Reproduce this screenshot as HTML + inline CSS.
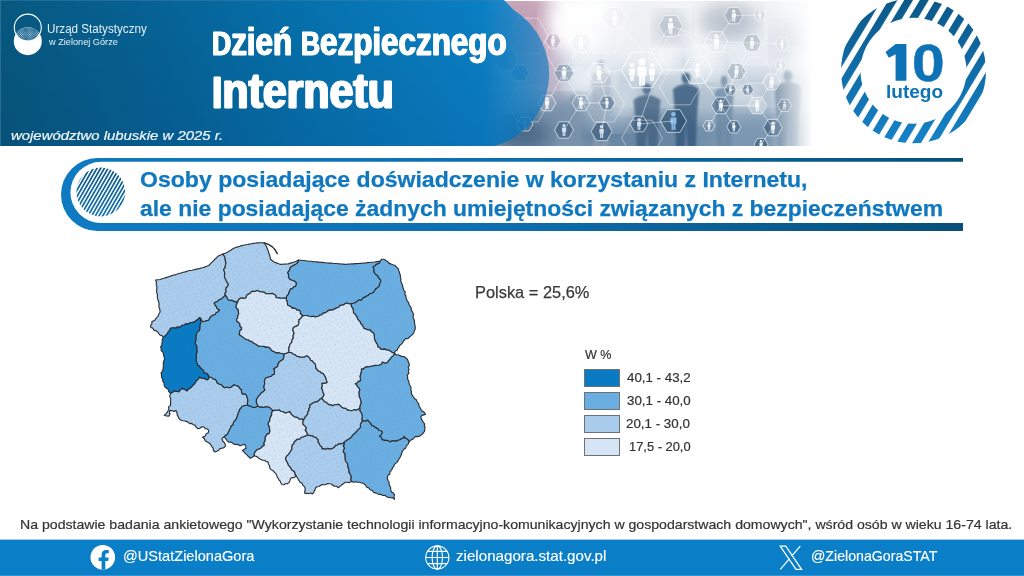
<!DOCTYPE html>
<html lang="pl">
<head>
<meta charset="utf-8">
<title>Dzień Bezpiecznego Internetu</title>
<style>
*{margin:0;padding:0;box-sizing:border-box}
html,body{width:1024px;height:576px;overflow:hidden;background:#fff}
body{position:relative;font-family:"Liberation Sans",sans-serif;color:#333}
.abs{position:absolute;white-space:nowrap}
#hdr{position:absolute;left:0;top:0;width:1024px;height:147px}
.lg{position:absolute;left:584.3px;width:35.4px;height:18px;border:1px solid #6d7278}
</style>
</head>
<body>
<svg id="hdr" viewBox="0 0 1024 147" width="1024" height="147">
<defs>
<linearGradient id="gb" x1="0" y1="0" x2="1" y2="0">
<stop offset="0" stop-color="#07587f"/><stop offset=".3" stop-color="#066397"/><stop offset=".6" stop-color="#0673b0"/><stop offset=".88" stop-color="#0a7fc5"/><stop offset=".93" stop-color="#0c80c7" stop-opacity=".86"/><stop offset="1" stop-color="#1080c9" stop-opacity=".62"/>
</linearGradient>
<linearGradient id="gbv" x1="0" y1="0" x2="0" y2="1">
<stop offset="0" stop-color="#000" stop-opacity=".0"/><stop offset="1" stop-color="#003" stop-opacity=".08"/>
</linearGradient>
<linearGradient id="gph" x1="0" y1="0" x2="0" y2="1">
<stop offset="0" stop-color="#f4f4f7"/><stop offset=".45" stop-color="#d3dde6"/><stop offset="1" stop-color="#8aa3b9"/>
</linearGradient>
<linearGradient id="gfade" x1="0" y1="0" x2="1" y2="0">
<stop offset="0" stop-color="#fff" stop-opacity="0"/><stop offset="1" stop-color="#fff" stop-opacity="1"/>
</linearGradient>
<linearGradient id="gring" x1="0" y1="0" x2="0" y2="1">
<stop offset="0" stop-color="#0a5786"/><stop offset="1" stop-color="#1684cb"/>
</linearGradient>
<pattern id="stripes" width="13.4" height="13.4" patternUnits="userSpaceOnUse" patternTransform="translate(909.90 68.64) rotate(31)">
<rect x="0" y="0" width="7.6" height="13.4" fill="#fff"/>
</pattern>
<mask id="mring"><rect x="830" y="-5" width="170" height="155" fill="#000"/><circle cx="913.5" cy="70.8" r="72.5" fill="url(#stripes)"/><circle cx="913.5" cy="70.8" r="53" fill="#000"/></mask>
<filter id="bl1"><feGaussianBlur stdDeviation="1.2"/></filter>
<filter id="bl2"><feGaussianBlur stdDeviation="2"/></filter>
<filter id="bl4"><feGaussianBlur stdDeviation="4"/></filter>
<filter id="bl8"><feGaussianBlur stdDeviation="9"/></filter>
<clipPath id="cph"><rect x="480" y="1" width="338" height="145"/></clipPath>
</defs>
<g clip-path="url(#cph)">
<rect x="480" y="0" width="338" height="147" fill="url(#gph)"/>
<ellipse cx="520" cy="25" rx="38" ry="40" fill="#c39fb4" opacity="0.95" filter="url(#bl8)"/>
<ellipse cx="545" cy="70" rx="22" ry="45" fill="#b9a3bd" opacity="0.6" filter="url(#bl8)"/>
<ellipse cx="585" cy="25" rx="40" ry="32" fill="#ffffff" opacity="0.95" filter="url(#bl8)"/>
<ellipse cx="640" cy="40" rx="40" ry="30" fill="#f2f2f6" opacity="0.8" filter="url(#bl8)"/>
<ellipse cx="700" cy="30" rx="30" ry="22" fill="#ffffff" opacity="0.7" filter="url(#bl8)"/>
<ellipse cx="760" cy="50" rx="35" ry="35" fill="#eef1f5" opacity="0.7" filter="url(#bl8)"/>
<ellipse cx="590" cy="80" rx="25" ry="20" fill="#ffffff" opacity="0.6" filter="url(#bl8)"/>
<ellipse cx="705" cy="62" rx="16" ry="16" fill="#ffffff" opacity="0.75" filter="url(#bl8)"/>
<ellipse cx="560" cy="125" rx="50" ry="28" fill="#6f8ba6" opacity="0.85" filter="url(#bl8)"/>
<ellipse cx="650" cy="135" rx="70" ry="22" fill="#5d7d9c" opacity="0.8" filter="url(#bl8)"/>
<ellipse cx="750" cy="135" rx="60" ry="22" fill="#7391ad" opacity="0.75" filter="url(#bl8)"/>
<ellipse cx="610" cy="110" rx="30" ry="20" fill="#b4c4d4" opacity="0.6" filter="url(#bl8)"/>
<ellipse cx="760" cy="90" rx="30" ry="20" fill="#b8c6d4" opacity="0.6" filter="url(#bl8)"/>
<ellipse cx="728" cy="22" rx="30" ry="18" fill="#aab3bf" opacity="0.75" filter="url(#bl8)"/>
<ellipse cx="790" cy="45" rx="18" ry="22" fill="#c2cad3" opacity="0.6" filter="url(#bl8)"/>
<ellipse cx="672" cy="28" rx="18" ry="16" fill="#b3bac6" opacity="0.6" filter="url(#bl8)"/>
<ellipse cx="520" cy="135" rx="30" ry="18" fill="#3f5f80" opacity="0.8" filter="url(#bl8)"/>
<ellipse cx="700" cy="105" rx="25" ry="18" fill="#a9bccd" opacity="0.5" filter="url(#bl8)"/>
<ellipse cx="530" cy="60" rx="18" ry="40" fill="#c7a6b9" opacity="0.55" filter="url(#bl8)"/>
<ellipse cx="665" cy="60" rx="14" ry="12" fill="#ffffff" opacity="0.7" filter="url(#bl8)"/>
<ellipse cx="742" cy="95" rx="16" ry="10" fill="#ffffff" opacity="0.5" filter="url(#bl8)"/>
<ellipse cx="625" cy="100" rx="10" ry="14" fill="#ffffff" opacity="0.45" filter="url(#bl8)"/>
<ellipse cx="800" cy="60" rx="10" ry="12" fill="#ffffff" opacity="0.6" filter="url(#bl8)"/>
<g fill="#3f5f7f" opacity="0.75" filter="url(#bl1)"><ellipse cx="647" cy="89" rx="4.6" ry="5.5"/><path d="M633.5,100 Q647,90 660.5,100 L658.3,122.4 L657.3,150 L648.4,150 L647,124.9 L645.6,150 L636.7,150 L635.7,122.4Z"/></g>
<g fill="#35587b" opacity="0.8" filter="url(#bl1)"><ellipse cx="686" cy="78" rx="4.4" ry="5.5"/><path d="M673.0,89 Q686,79 699.0,89 L696.9,118.3 L695.9,150 L687.3,150 L686,121.2 L684.7,150 L676.1,150 L675.1,118.3Z"/></g>
<g fill="#6886a2" opacity="0.7" filter="url(#bl1)"><ellipse cx="724" cy="81" rx="3.2" ry="5.5"/><path d="M714.5,92 Q724,82 733.5,92 L732.0,119.4 L731.2,150 L725.0,150 L724,122.2 L723.0,150 L716.8,150 L716.0,119.4Z"/></g>
<g fill="#55738f" opacity="0.7" filter="url(#bl1)"><ellipse cx="788" cy="76" rx="4.6" ry="5.5"/><path d="M774.5,87 Q788,77 801.5,87 L799.3,117.5 L798.3,150 L789.4,150 L788,120.5 L786.6,150 L777.7,150 L776.7,117.5Z"/></g>
<g fill="#9aa9bb" opacity="0.45" filter="url(#bl1)"><ellipse cx="601" cy="65" rx="3.4" ry="5.5"/><path d="M591.0,76 Q601,66 611.0,76 L609.4,113.3 L608.6,150 L602.0,150 L601,116.8 L600.0,150 L593.4,150 L592.6,113.3Z"/></g>
<g fill="#7f96ad" opacity="0.5" filter="url(#bl1)"><ellipse cx="573" cy="100" rx="3.7" ry="5.5"/><path d="M562.0,111 Q573,101 584.0,111 L582.2,126.6 L581.4,150 L574.1,150 L573,128.7 L571.9,150 L564.6,150 L563.8,126.6Z"/></g>
<polygon points="662.5,70.0 652.2,87.8 631.8,87.8 621.5,70.0 631.8,52.2 652.2,52.2" fill="none" stroke="#fff" stroke-opacity=".8" stroke-width="1"/>
<polygon points="574.0,73.0 569.0,81.7 559.0,81.7 554.0,73.0 559.0,64.3 569.0,64.3" fill="#5f7d99" fill-opacity="0.44" stroke="#fff" stroke-opacity=".7" stroke-width=".9"/>
<g fill="#fff" opacity="0.9"><circle cx="564.0" cy="68.2" r="1.7"/><rect x="561.8" y="70.4" width="4.4" height="4.7" rx="0.7"/><rect x="562.5" y="74.3" width="1.3" height="5.2"/><rect x="564.2" y="74.3" width="1.3" height="5.2"/></g>
<polygon points="591.0,43.0 586.0,51.7 576.0,51.7 571.0,43.0 576.0,34.3 586.0,34.3" fill="#dfe6ee" fill-opacity="0.32" stroke="#fff" stroke-opacity=".7" stroke-width=".9"/>
<g fill="#fff" opacity="0.9"><circle cx="581.0" cy="38.2" r="1.7"/><rect x="578.8" y="40.4" width="4.4" height="4.7" rx="0.7"/><rect x="579.5" y="44.3" width="1.3" height="5.2"/><rect x="581.2" y="44.3" width="1.3" height="5.2"/></g>
<polygon points="610.0,73.0 604.5,82.5 593.5,82.5 588.0,73.0 593.5,63.5 604.5,63.5" fill="#e8eef4" fill-opacity="0.28" stroke="#fff" stroke-opacity=".7" stroke-width=".9"/>
<g fill="#fff" opacity="0.9"><circle cx="599.0" cy="67.5" r="2.0"/><rect x="596.5" y="70.0" width="5.1" height="5.4" rx="0.8"/><rect x="597.3" y="74.5" width="1.5" height="6.0"/><rect x="599.2" y="74.5" width="1.5" height="6.0"/></g>
<polygon points="615.0,103.0 611.0,109.9 603.0,109.9 599.0,103.0 603.0,96.1 611.0,96.1" fill="#4b6b8a" fill-opacity="0.56" stroke="#fff" stroke-opacity=".7" stroke-width=".9"/>
<g fill="#fff" opacity="0.9"><circle cx="607.0" cy="99.3" r="1.3"/><rect x="605.3" y="101.0" width="3.4" height="3.6" rx="0.5"/><rect x="605.8" y="104.0" width="1.0" height="4.0"/><rect x="607.2" y="104.0" width="1.0" height="4.0"/></g>
<polygon points="590.0,103.0 585.5,110.8 576.5,110.8 572.0,103.0 576.5,95.2 585.5,95.2" fill="#8aa0b6" fill-opacity="0.44" stroke="#fff" stroke-opacity=".7" stroke-width=".9"/>
<g fill="#fff" opacity="0.9"><circle cx="581.0" cy="98.6" r="1.6"/><rect x="579.0" y="100.6" width="4.1" height="4.3" rx="0.6"/><rect x="579.6" y="104.2" width="1.2" height="4.8"/><rect x="581.2" y="104.2" width="1.2" height="4.8"/></g>
<polygon points="556.0,103.0 551.5,110.8 542.5,110.8 538.0,103.0 542.5,95.2 551.5,95.2" fill="#9eb1c4" fill-opacity="0.40" stroke="#fff" stroke-opacity=".7" stroke-width=".9"/>
<g fill="#fff" opacity="0.9"><circle cx="547.0" cy="98.6" r="1.6"/><rect x="545.0" y="100.6" width="4.1" height="4.3" rx="0.6"/><rect x="545.6" y="104.2" width="1.2" height="4.8"/><rect x="547.2" y="104.2" width="1.2" height="4.8"/></g>
<polygon points="573.5,130.0 568.8,138.2 559.2,138.2 554.5,130.0 559.2,121.8 568.8,121.8" fill="#3f5f80" fill-opacity="0.64" stroke="#fff" stroke-opacity=".7" stroke-width=".9"/>
<g fill="#dfeaf5" opacity="0.9"><circle cx="564.0" cy="125.6" r="1.6"/><rect x="562.0" y="127.6" width="4.1" height="4.3" rx="0.6"/><rect x="562.6" y="131.2" width="1.2" height="4.8"/><rect x="564.2" y="131.2" width="1.2" height="4.8"/></g>
<polygon points="612.1,131.5 606.9,140.6 596.4,140.6 591.1,131.5 596.4,122.4 606.9,122.4" fill="#38597a" fill-opacity="0.68" stroke="#fff" stroke-opacity=".7" stroke-width=".9"/>
<g fill="#dfeaf5" opacity="0.9"><circle cx="601.6" cy="126.7" r="1.7"/><rect x="599.4" y="128.9" width="4.4" height="4.7" rx="0.7"/><rect x="600.1" y="132.8" width="1.3" height="5.2"/><rect x="601.8" y="132.8" width="1.3" height="5.2"/></g>
<polygon points="648.0,124.0 643.5,131.8 634.5,131.8 630.0,124.0 634.5,116.2 643.5,116.2" fill="#3d5d7e" fill-opacity="0.64" stroke="#fff" stroke-opacity=".7" stroke-width=".9"/>
<g fill="#dfeaf5" opacity="0.9"><circle cx="639.0" cy="119.6" r="1.6"/><rect x="637.0" y="121.6" width="4.1" height="4.3" rx="0.6"/><rect x="637.6" y="125.2" width="1.2" height="4.8"/><rect x="639.2" y="125.2" width="1.2" height="4.8"/></g>
<polygon points="686.5,121.0 680.0,132.3 667.0,132.3 660.5,121.0 667.0,109.7 680.0,109.7" fill="#2f5273" fill-opacity="0.68" stroke="#fff" stroke-opacity=".7" stroke-width=".9"/>
<g fill="#8fc3ee" opacity="0.9"><circle cx="673.5" cy="114.3" r="2.3"/><rect x="670.4" y="117.4" width="6.1" height="6.5" rx="0.9"/><rect x="671.5" y="122.8" width="1.8" height="7.2"/><rect x="673.7" y="122.8" width="1.8" height="7.2"/></g>
<polygon points="682.6,26.0 676.6,36.4 664.6,36.4 658.6,26.0 664.6,15.6 676.6,15.6" fill="#a9b3c0" fill-opacity="0.44" stroke="#fff" stroke-opacity=".7" stroke-width=".9"/>
<g fill="#fff" opacity="0.9"><circle cx="670.6" cy="20.1" r="2.1"/><rect x="667.9" y="22.8" width="5.4" height="5.8" rx="0.8"/><rect x="668.8" y="27.6" width="1.6" height="6.4"/><rect x="670.8" y="27.6" width="1.6" height="6.4"/></g>
<polygon points="626.6,18.0 620.6,28.4 608.6,28.4 602.6,18.0 608.6,7.6 620.6,7.6" fill="#e8e8ee" fill-opacity="0.24" stroke="#fff" stroke-opacity=".7" stroke-width=".9"/>
<g fill="#fff" opacity="0.9"><circle cx="614.6" cy="12.4" r="2.0"/><rect x="612.1" y="15.0" width="5.1" height="5.4" rx="0.8"/><rect x="612.9" y="19.5" width="1.5" height="6.0"/><rect x="614.8" y="19.5" width="1.5" height="6.0"/></g>
<polygon points="561.0,41.0 557.0,47.9 549.0,47.9 545.0,41.0 549.0,34.1 557.0,34.1" fill="#a58ea6" fill-opacity="0.40" stroke="#fff" stroke-opacity=".7" stroke-width=".9"/>
<g fill="#fff" opacity="0.9"><circle cx="553.0" cy="36.9" r="1.4"/><rect x="551.1" y="38.8" width="3.7" height="4.0" rx="0.6"/><rect x="551.7" y="42.1" width="1.1" height="4.4"/><rect x="553.2" y="42.1" width="1.1" height="4.4"/></g>
<polygon points="743.3,15.6 738.5,23.8 729.0,23.8 724.3,15.6 729.0,7.4 738.5,7.4" fill="#97a3b2" fill-opacity="0.52" stroke="#fff" stroke-opacity=".7" stroke-width=".9"/>
<g fill="#fff" opacity="0.9"><circle cx="733.8" cy="11.2" r="1.6"/><rect x="731.8" y="13.2" width="4.1" height="4.3" rx="0.6"/><rect x="732.4" y="16.8" width="1.2" height="4.8"/><rect x="734.0" y="16.8" width="1.2" height="4.8"/></g>
<polygon points="765.8,15.0 762.8,20.2 756.8,20.2 753.8,15.0 756.8,9.8 762.8,9.8" fill="#c7cdd6" fill-opacity="0.40" stroke="#fff" stroke-opacity=".7" stroke-width=".9"/>
<g fill="#fff" opacity="0.9"><circle cx="759.8" cy="12.0" r="1.0"/><rect x="758.4" y="13.4" width="2.7" height="2.9" rx="0.4"/><rect x="758.8" y="15.8" width="0.8" height="3.2"/><rect x="760.0" y="15.8" width="0.8" height="3.2"/></g>
<polygon points="727.9,41.7 722.1,51.7 710.6,51.7 704.9,41.7 710.6,31.7 722.1,31.7" fill="#dfe5ec" fill-opacity="0.28" stroke="#fff" stroke-opacity=".7" stroke-width=".9"/>
<g fill="#fff" opacity="0.9"><circle cx="716.4" cy="36.2" r="2.0"/><rect x="713.9" y="38.7" width="5.1" height="5.4" rx="0.8"/><rect x="714.7" y="43.2" width="1.5" height="6.0"/><rect x="716.6" y="43.2" width="1.5" height="6.0"/></g>
<polygon points="761.5,43.0 756.8,51.2 747.2,51.2 742.5,43.0 747.2,34.8 756.8,34.8" fill="#9aa8b8" fill-opacity="0.48" stroke="#fff" stroke-opacity=".7" stroke-width=".9"/>
<g fill="#fff" opacity="0.9"><circle cx="752.0" cy="38.6" r="1.6"/><rect x="750.0" y="40.6" width="4.1" height="4.3" rx="0.6"/><rect x="750.6" y="44.2" width="1.2" height="4.8"/><rect x="752.2" y="44.2" width="1.2" height="4.8"/></g>
<polygon points="789.0,44.0 785.5,50.1 778.5,50.1 775.0,44.0 778.5,37.9 785.5,37.9" fill="#c9d0d9" fill-opacity="0.40" stroke="#fff" stroke-opacity=".7" stroke-width=".9"/>
<g fill="#fff" opacity="0.9"><circle cx="782.0" cy="40.7" r="1.2"/><rect x="780.5" y="42.2" width="3.1" height="3.2" rx="0.5"/><rect x="780.9" y="44.9" width="0.9" height="3.6"/><rect x="782.2" y="44.9" width="0.9" height="3.6"/></g>
<polygon points="786.7,65.0 783.7,70.2 777.7,70.2 774.7,65.0 777.7,59.8 783.7,59.8" fill="#c3ccd6" fill-opacity="0.40" stroke="#fff" stroke-opacity=".7" stroke-width=".9"/>
<g fill="#fff" opacity="0.9"><circle cx="780.7" cy="62.0" r="1.0"/><rect x="779.3" y="63.4" width="2.7" height="2.9" rx="0.4"/><rect x="779.7" y="65.8" width="0.8" height="3.2"/><rect x="780.9" y="65.8" width="0.8" height="3.2"/></g>
<polygon points="745.9,71.6 741.1,79.8 731.6,79.8 726.9,71.6 731.6,63.4 741.1,63.4" fill="#8d9fb2" fill-opacity="0.48" stroke="#fff" stroke-opacity=".7" stroke-width=".9"/>
<g fill="#fff" opacity="0.9"><circle cx="736.4" cy="67.2" r="1.6"/><rect x="734.4" y="69.2" width="4.1" height="4.3" rx="0.6"/><rect x="735.0" y="72.8" width="1.2" height="4.8"/><rect x="736.6" y="72.8" width="1.2" height="4.8"/></g>
<polygon points="780.6,82.0 776.1,89.8 767.1,89.8 762.6,82.0 767.1,74.2 776.1,74.2" fill="#d6dde5" fill-opacity="0.40" stroke="#fff" stroke-opacity=".7" stroke-width=".9"/>
<g fill="#fff" opacity="0.9"><circle cx="771.6" cy="77.6" r="1.6"/><rect x="769.6" y="79.6" width="4.1" height="4.3" rx="0.6"/><rect x="770.2" y="83.2" width="1.2" height="4.8"/><rect x="771.8" y="83.2" width="1.2" height="4.8"/></g>
<polygon points="736.4,89.8 733.4,95.0 727.4,95.0 724.4,89.8 727.4,84.6 733.4,84.6" fill="#4d6d8c" fill-opacity="0.60" stroke="#fff" stroke-opacity=".7" stroke-width=".9"/>
<g fill="#fff" opacity="0.9"><circle cx="730.4" cy="86.8" r="1.0"/><rect x="729.0" y="88.2" width="2.7" height="2.9" rx="0.4"/><rect x="729.4" y="90.6" width="0.8" height="3.2"/><rect x="730.6" y="90.6" width="0.8" height="3.2"/></g>
<polygon points="753.6,89.8 750.6,95.0 744.6,95.0 741.6,89.8 744.6,84.6 750.6,84.6" fill="#4d6d8c" fill-opacity="0.60" stroke="#fff" stroke-opacity=".7" stroke-width=".9"/>
<g fill="#fff" opacity="0.9"><circle cx="747.6" cy="86.8" r="1.0"/><rect x="746.2" y="88.2" width="2.7" height="2.9" rx="0.4"/><rect x="746.6" y="90.6" width="0.8" height="3.2"/><rect x="747.8" y="90.6" width="0.8" height="3.2"/></g>
<polygon points="730.3,105.5 725.5,113.7 716.0,113.7 711.3,105.5 716.0,97.3 725.5,97.3" fill="#4a6a89" fill-opacity="0.56" stroke="#fff" stroke-opacity=".7" stroke-width=".9"/>
<g fill="#fff" opacity="0.9"><circle cx="720.8" cy="101.1" r="1.6"/><rect x="718.8" y="103.1" width="4.1" height="4.3" rx="0.6"/><rect x="719.4" y="106.7" width="1.2" height="4.8"/><rect x="721.0" y="106.7" width="1.2" height="4.8"/></g>
<polygon points="766.7,105.5 762.0,113.7 752.5,113.7 747.7,105.5 752.5,97.3 762.0,97.3" fill="#dbe3eb" fill-opacity="0.40" stroke="#fff" stroke-opacity=".7" stroke-width=".9"/>
<g fill="#fff" opacity="0.9"><circle cx="757.2" cy="101.1" r="1.6"/><rect x="755.2" y="103.1" width="4.1" height="4.3" rx="0.6"/><rect x="755.8" y="106.7" width="1.2" height="4.8"/><rect x="757.4" y="106.7" width="1.2" height="4.8"/></g>
<polygon points="791.6,105.5 788.1,111.6 781.1,111.6 777.6,105.5 781.1,99.4 788.1,99.4" fill="#48607c" fill-opacity="0.60" stroke="#fff" stroke-opacity=".7" stroke-width=".9"/>
<g fill="#cfe0f0" opacity="0.9"><circle cx="784.6" cy="102.2" r="1.2"/><rect x="783.1" y="103.7" width="3.1" height="3.2" rx="0.5"/><rect x="783.5" y="106.4" width="0.9" height="3.6"/><rect x="784.8" y="106.4" width="0.9" height="3.6"/></g>
<polygon points="715.0,125.8 712.0,131.0 706.0,131.0 703.0,125.8 706.0,120.6 712.0,120.6" fill="#7a93ab" fill-opacity="0.48" stroke="#fff" stroke-opacity=".7" stroke-width=".9"/>
<g fill="#fff" opacity="0.9"><circle cx="709.0" cy="122.8" r="1.0"/><rect x="707.6" y="124.2" width="2.7" height="2.9" rx="0.4"/><rect x="708.0" y="126.6" width="0.8" height="3.2"/><rect x="709.2" y="126.6" width="0.8" height="3.2"/></g>
<polygon points="740.8,126.8 737.3,132.9 730.3,132.9 726.8,126.8 730.3,120.7 737.3,120.7" fill="#3f6080" fill-opacity="0.64" stroke="#fff" stroke-opacity=".7" stroke-width=".9"/>
<g fill="#fff" opacity="0.9"><circle cx="733.8" cy="123.5" r="1.2"/><rect x="732.3" y="125.0" width="3.1" height="3.2" rx="0.5"/><rect x="732.7" y="127.7" width="0.9" height="3.6"/><rect x="734.0" y="127.7" width="0.9" height="3.6"/></g>
<polygon points="782.4,127.6 777.6,135.8 768.1,135.8 763.4,127.6 768.1,119.4 777.6,119.4" fill="#3a5b7b" fill-opacity="0.64" stroke="#fff" stroke-opacity=".7" stroke-width=".9"/>
<g fill="#fff" opacity="0.9"><circle cx="772.9" cy="123.2" r="1.6"/><rect x="770.9" y="125.2" width="4.1" height="4.3" rx="0.6"/><rect x="771.5" y="128.8" width="1.2" height="4.8"/><rect x="773.1" y="128.8" width="1.2" height="4.8"/></g>
<polygon points="768.0,144.5 764.5,150.6 757.5,150.6 754.0,144.5 757.5,138.4 764.5,138.4" fill="#3a5b7b" fill-opacity="0.64" stroke="#fff" stroke-opacity=".7" stroke-width=".9"/>
<g fill="#fff" opacity="0.9"><circle cx="761.0" cy="141.2" r="1.2"/><rect x="759.5" y="142.7" width="3.1" height="3.2" rx="0.5"/><rect x="759.9" y="145.4" width="0.9" height="3.6"/><rect x="761.2" y="145.4" width="0.9" height="3.6"/></g>
<polygon points="712.3,70.3 704.8,83.3 689.8,83.3 682.3,70.3 689.8,57.3 704.8,57.3" fill="none" stroke="#fff" stroke-opacity=".8" stroke-width="1"/>
<g fill="#fff" opacity="0.9"><circle cx="697.3" cy="65.1" r="1.8"/><rect x="694.9" y="67.5" width="4.8" height="5.0" rx="0.7"/><rect x="695.7" y="71.7" width="1.4" height="5.6"/><rect x="697.5" y="71.7" width="1.4" height="5.6"/></g>
<polygon points="529.0,73.0 524.5,80.8 515.5,80.8 511.0,73.0 515.5,65.2 524.5,65.2" fill="#2f6f9f" fill-opacity="0.40" stroke="#fff" stroke-opacity=".7" stroke-width=".9"/>
<g fill="#5fa4d8" opacity="0.9"><circle cx="520.0" cy="68.6" r="1.6"/><rect x="518.0" y="70.6" width="4.1" height="4.3" rx="0.6"/><rect x="518.6" y="74.2" width="1.2" height="4.8"/><rect x="520.2" y="74.2" width="1.2" height="4.8"/></g>
<polygon points="533.0,124.0 529.0,130.9 521.0,130.9 517.0,124.0 521.0,117.1 529.0,117.1" fill="#2f6f9f" fill-opacity="0.32" stroke="#fff" stroke-opacity=".7" stroke-width=".9"/>
<g fill="#5fa4d8" opacity="0.9"><circle cx="525.0" cy="120.3" r="1.3"/><rect x="523.3" y="122.0" width="3.4" height="3.6" rx="0.5"/><rect x="523.8" y="125.0" width="1.0" height="4.0"/><rect x="525.2" y="125.0" width="1.0" height="4.0"/></g>
<polygon points="518.0,60.0 512.0,70.4 500.0,70.4 494.0,60.0 500.0,49.6 512.0,49.6" fill="#2f6f9f" fill-opacity="0.24" stroke="#fff" stroke-opacity=".7" stroke-width=".9"/>
<g fill="#5fa4d8" opacity="0.9"><circle cx="506.0" cy="54.1" r="2.1"/><rect x="503.3" y="56.8" width="5.4" height="5.8" rx="0.8"/><rect x="504.2" y="61.6" width="1.6" height="6.4"/><rect x="506.2" y="61.6" width="1.6" height="6.4"/></g>
<polygon points="624.5,36.0 614.2,53.8 593.8,53.8 583.5,36.0 593.8,18.2 614.2,18.2" fill="none" stroke="#fff" stroke-opacity=".45" stroke-width=".9"/>
<polygon points="624.5,104.0 614.2,121.8 593.8,121.8 583.5,104.0 593.8,86.2 614.2,86.2" fill="none" stroke="#fff" stroke-opacity=".45" stroke-width=".9"/>
<polygon points="586.5,53.0 576.2,70.8 555.8,70.8 545.5,53.0 555.8,35.2 576.2,35.2" fill="none" stroke="#fff" stroke-opacity=".45" stroke-width=".9"/>
<polygon points="700.5,87.0 690.2,104.8 669.8,104.8 659.5,87.0 669.8,69.2 690.2,69.2" fill="none" stroke="#fff" stroke-opacity=".45" stroke-width=".9"/>
<polygon points="700.5,53.0 690.2,70.8 669.8,70.8 659.5,53.0 669.8,35.2 690.2,35.2" fill="none" stroke="#fff" stroke-opacity=".45" stroke-width=".9"/>
<polygon points="738.5,70.0 728.2,87.8 707.8,87.8 697.5,70.0 707.8,52.2 728.2,52.2" fill="none" stroke="#fff" stroke-opacity=".45" stroke-width=".9"/>
<polygon points="548.5,36.0 538.2,53.8 517.8,53.8 507.5,36.0 517.8,18.2 538.2,18.2" fill="none" stroke="#fff" stroke-opacity=".45" stroke-width=".9"/>
<polygon points="548.5,104.0 538.2,121.8 517.8,121.8 507.5,104.0 517.8,86.2 538.2,86.2" fill="none" stroke="#fff" stroke-opacity=".45" stroke-width=".9"/>
<polygon points="510.5,87.0 500.2,104.8 479.8,104.8 469.5,87.0 479.8,69.2 500.2,69.2" fill="none" stroke="#fff" stroke-opacity=".45" stroke-width=".9"/>
<polygon points="771.0,70.0 763.5,83.0 748.5,83.0 741.0,70.0 748.5,57.0 763.5,57.0" fill="none" stroke="#fff" stroke-opacity=".45" stroke-width=".9"/>
<polygon points="662.5,138.0 652.2,155.8 631.8,155.8 621.5,138.0 631.8,120.2 652.2,120.2" fill="none" stroke="#fff" stroke-opacity=".45" stroke-width=".9"/>
<g fill="#fff" opacity="0.95"><circle cx="642.0" cy="62.0" r="3.5"/><rect x="637.4" y="66.6" width="9.2" height="9.7" rx="1.4"/><rect x="639.1" y="74.7" width="2.7" height="10.8"/><rect x="642.2" y="74.7" width="2.7" height="10.8"/></g>
<g fill="#fff" opacity="0.9"><circle cx="632.0" cy="65.3" r="2.3"/><rect x="628.9" y="68.4" width="6.1" height="6.5" rx="0.9"/><rect x="630.0" y="73.8" width="1.8" height="7.2"/><rect x="632.2" y="73.8" width="1.8" height="7.2"/></g>
<g fill="#fff" opacity="0.9"><circle cx="652.0" cy="65.3" r="2.3"/><rect x="648.9" y="68.4" width="6.1" height="6.5" rx="0.9"/><rect x="650.0" y="73.8" width="1.8" height="7.2"/><rect x="652.2" y="73.8" width="1.8" height="7.2"/></g>
<g stroke="#fff" stroke-opacity=".6" stroke-width=".8">
<line x1="564" y1="73" x2="581" y2="43"/>
<line x1="581" y1="43" x2="599" y2="73"/>
<line x1="599" y1="73" x2="621.5" y2="70"/>
<line x1="599" y1="73" x2="607" y2="103"/>
<line x1="581" y1="103" x2="607" y2="103"/>
<line x1="564" y1="73" x2="581" y2="103"/>
<line x1="547" y1="103" x2="564" y2="73"/>
<line x1="581" y1="103" x2="564" y2="130"/>
<line x1="607" y1="103" x2="601.6" y2="131.5"/>
<line x1="662.5" y1="70" x2="697" y2="70"/>
<line x1="652" y1="52" x2="670.6" y2="26"/>
<line x1="670.6" y1="26" x2="716" y2="41.7"/>
<line x1="716.4" y1="41.7" x2="733.8" y2="15.6"/>
<line x1="733.8" y1="15.6" x2="759.8" y2="15"/>
<line x1="716.4" y1="41.7" x2="752" y2="43"/>
<line x1="752" y1="43" x2="782" y2="44"/>
<line x1="752" y1="43" x2="736.4" y2="71.6"/>
<line x1="736.4" y1="71.6" x2="730.4" y2="89.8"/>
<line x1="730.4" y1="89.8" x2="747.6" y2="89.8"/>
<line x1="730.4" y1="89.8" x2="720.8" y2="105.5"/>
<line x1="720.8" y1="105.5" x2="757.2" y2="105.5"/>
<line x1="747.6" y1="89.8" x2="757.2" y2="105.5"/>
<line x1="757.2" y1="105.5" x2="771.6" y2="82"/>
<line x1="771.6" y1="82" x2="780.7" y2="65"/>
<line x1="757.2" y1="105.5" x2="772.9" y2="127.6"/>
<line x1="720.8" y1="105.5" x2="709" y2="125.8"/>
<line x1="720.8" y1="105.5" x2="733.8" y2="126.8"/>
<line x1="772.9" y1="127.6" x2="761" y2="144.5"/>
<line x1="784.6" y1="105.5" x2="772.9" y2="127.6"/>
<line x1="697" y1="70" x2="720.8" y2="105.5"/>
<line x1="652" y1="88" x2="639" y2="124"/>
<line x1="639" y1="124" x2="673.5" y2="121"/>
<line x1="614.6" y1="18" x2="642" y2="50"/>
</g>
<rect x="768" y="0" width="45" height="147" fill="url(#gfade)"/><rect x="812.5" y="0" width="8" height="147" fill="#fff"/>
</g>
<!-- blue band -->
<path d="M0,0H504L508.5,4.5L513.7,10A75.1,75.1 0 0 1 494.7,146H0Z" fill="url(#gb)"/>
<path d="M0,0H504L508.5,4.5L513.7,10A75.1,75.1 0 0 1 494.7,146H0Z" fill="url(#gbv)"/>
<rect x="0" y="0" width="1" height="146" fill="#3c7ea8" opacity=".6"/>
<rect x="0" y="0" width="500" height="1" fill="#3c7ea8" opacity=".5"/>
<!-- logo -->
<circle cx="27.8" cy="41.2" r="14" fill="#fff"/>
<clipPath id="clens"><circle cx="27.8" cy="27.6" r="13.2"/></clipPath>
<pattern id="xh" width="1.6" height="1.6" patternUnits="userSpaceOnUse" patternTransform="rotate(45)"><rect width="1.6" height="1.6" fill="#07587f"/><rect width=".75" height=".75" fill="#fff"/></pattern>
<circle cx="27.8" cy="41.2" r="14" fill="url(#xh)" clip-path="url(#clens)"/>
<circle cx="27.8" cy="41.2" r="14" fill="#6b9fc4" fill-opacity=".35" clip-path="url(#clens)"/>
<circle cx="27.8" cy="27.6" r="13.5" fill="none" stroke="#fff" stroke-width="1.1"/>
<!-- date ring -->
<rect x="830" y="-5" width="170" height="155" fill="url(#gring)" mask="url(#mring)"/>
<path d="M895.6,43.9H906.4V80.7H895.6V54.3L888.9,57.7L885.5,52.1Z" fill="#0d72b6"/>
</svg>


<!-- title bar -->
<svg class="abs" style="left:0;top:150px" width="1024" height="90" viewBox="0 150 1024 90">
<defs>
<linearGradient id="gt" x1="0" y1="0" x2="1" y2="0" gradientUnits="userSpaceOnUse" >
<stop offset="0" stop-color="#0f7ac2"/><stop offset=".5" stop-color="#0d6cab"/><stop offset="1" stop-color="#064a6d"/>
</linearGradient>
<linearGradient id="gt2" x1="61" y1="0" x2="963" y2="0" gradientUnits="userSpaceOnUse">
<stop offset="0" stop-color="#0f7ac2"/><stop offset=".45" stop-color="#0e70b2"/><stop offset="1" stop-color="#07507a"/>
</linearGradient>
<linearGradient id="gh" x1="0" y1="0" x2="0" y2="1">
<stop offset="0" stop-color="#0a5482"/><stop offset="1" stop-color="#1379bd"/>
</linearGradient>
<pattern id="hat" width="3.2" height="3.2" patternUnits="userSpaceOnUse" patternTransform="translate(100.8 192) rotate(30)">
<rect x="0" y="0" width="1.7" height="3.2" fill="#fff"/>
</pattern>
<mask id="mh"><rect x="70" y="160" width="70" height="70" fill="#000"/><circle cx="100.8" cy="192" r="24.4" fill="url(#hat)"/></mask>
</defs>
<path d="M963,158H97.5A36.5,36.5 0 0 0 97.5,231H963Z" fill="url(#gt2)"/>
<path d="M964,161.8H101A30.6,30.6 0 0 0 101,223H964Z" fill="#fff"/>
<rect x="70" y="160" width="70" height="70" fill="url(#gh)" mask="url(#mh)"/>
</svg>

<!-- map -->
<svg class="abs" style="left:0;top:230px" width="460" height="280" viewBox="0 230 460 280">
<defs><pattern id="dots" width="11" height="9" patternUnits="userSpaceOnUse" patternTransform="rotate(14)"><rect x="1" y="1" width="1" height="1" fill="#5c7f9c" fill-opacity=".3"/><rect x="6.500" y="3.500" width="1" height="1" fill="#5c7f9c" fill-opacity=".3"/><rect x="3" y="6.500" width="1" height="1" fill="#5c7f9c" fill-opacity=".3"/><rect x="9" y="7" width="1" height="1" fill="#5c7f9c" fill-opacity=".25"/></pattern></defs>
<g stroke="#2b2f34" stroke-width="1.15" stroke-linejoin="round">
<defs>
<path id="rZP" d="M155.6,280.0 157.9,279.7 160.3,279.5 162.1,278.8 164.0,278.3 165.8,277.6 167.6,277.1 169.5,276.5 171.3,275.9 173.0,275.3 174.8,274.9 176.5,274.3 178.2,273.8 179.9,273.2 181.7,272.7 183.4,272.3 185.2,271.9 186.9,271.3 188.6,270.8 190.4,270.5 192.1,270.2 193.9,269.8 195.6,269.4 197.3,268.9 199.1,268.7 200.7,268.1 202.5,267.8 204.6,267.1 206.7,266.2 208.8,265.5 210.3,263.9 211.8,262.3 213.4,260.8 214.9,259.2 216.6,257.7 218.1,256.1 219.6,255.4 221.2,254.8 222.8,254.1 224.3,256.1 225.2,258.4 225.3,260.5 226.0,262.6 225.6,264.7 225.2,266.4 225.0,268.1 223.6,269.4 224.3,271.4 224.9,273.4 224.4,275.6 224.8,277.8 225.9,279.8 226.7,281.9 227.9,283.2 228.3,285.0 227.5,286.6 226.1,287.8 225.9,289.7 226.3,291.6 224.9,293.3 225.2,295.2 224.0,296.6 222.6,297.8 221.3,299.1 219.3,299.6 217.8,301.2 216.0,302.0 214.2,303.0 215.1,305.1 216.6,306.9 217.6,309.0 219.7,310.0 218.3,311.7 216.2,312.8 215.0,314.7 212.9,315.2 211.1,316.3 209.8,318.1 208.8,320.2 206.7,320.8 204.7,321.4 202.5,321.7 200.8,319.0 199.5,317.5 198.0,319.3 196.3,320.5 194.4,321.9 192.3,322.6 190.0,322.8 188.3,324.1 186.0,323.6 184.3,325.0 182.2,325.2 180.9,326.5 179.3,327.3 177.2,327.0 175.9,328.3 174.1,327.7 172.3,328.0 170.5,328.3 169.6,330.4 168.1,332.2 167.2,333.8 166.0,335.2 164.6,336.4 163.4,337.7 162.3,335.9 160.3,335.3 158.9,333.6 157.5,331.8 155.6,330.6 153.7,330.1 152.8,328.1 150.9,327.5 150.5,325.6 152.0,323.9 151.7,322.0 153.2,321.0 154.8,320.2 156.2,318.1 158.0,316.3 158.7,314.2 160.0,312.3 160.0,310.0 159.3,308.1 158.8,306.2 159.1,304.1 158.8,302.2 158.1,300.3 157.5,298.4 157.3,296.4 157.5,294.4 156.6,292.5 156.7,290.5 156.8,288.6 156.9,286.6 156.2,284.5 156.4,282.1 155.6,280.0Z"/>
<path id="rPM" d="M222.8,254.1 225.2,253.2 227.5,252.2 229.1,251.2 230.7,250.3 232.2,249.2 233.8,248.3 235.7,247.5 237.7,246.9 239.7,246.3 241.6,245.6 243.5,245.2 245.5,244.8 247.5,244.5 249.4,244.1 251.3,243.8 253.3,243.4 255.3,243.2 257.2,242.8 258.9,242.8 260.7,242.7 262.4,242.8 264.2,242.8 265.3,244.7 266.5,246.5 267.2,248.6 268.1,250.6 268.8,253.0 269.7,255.3 270.1,257.2 270.5,259.2 272.4,260.8 274.4,262.3 276.5,262.9 278.5,263.7 280.6,264.4 282.6,264.3 284.5,264.1 286.4,264.0 288.4,263.9 290.3,263.1 292.4,262.6 294.3,262.0 296.3,261.3 298.5,260.0 298.1,262.3 296.3,263.9 294.6,264.7 293.0,265.7 291.4,266.5 290.0,267.8 289.8,269.6 288.8,271.1 287.7,272.5 288.7,274.7 288.4,277.2 290.0,279.2 292.3,280.3 294.6,281.0 296.3,282.7 296.3,284.7 295.5,286.6 293.6,286.7 292.6,288.6 290.8,288.9 289.7,290.6 289.0,292.5 288.4,294.4 286.8,296.1 286.2,298.3 284.3,298.0 282.5,298.2 280.6,298.3 278.3,297.9 275.9,297.5 275.9,295.6 274.4,294.4 272.4,293.4 270.2,293.8 268.1,293.6 265.9,293.7 264.1,292.1 261.9,292.0 259.5,291.6 257.2,290.5 255.0,291.5 252.5,291.3 250.9,292.3 249.6,293.8 247.8,294.4 246.5,295.7 246.3,297.5 244.3,298.5 242.1,298.1 240.0,298.3 238.4,300.0 237.7,302.2 235.7,301.9 233.8,301.4 231.9,300.2 229.4,300.5 227.5,299.1 226.7,296.9 225.2,295.2 224.9,293.3 226.3,291.6 225.9,289.7 226.1,287.8 227.5,286.6 228.3,285.0 227.9,283.2 226.7,281.9 225.9,279.8 224.8,277.8 224.4,275.6 224.9,273.4 224.3,271.4 223.6,269.4 225.0,268.1 225.2,266.4 225.6,264.7 226.0,262.6 225.3,260.5 225.2,258.4 224.3,256.1 222.8,254.1Z"/>
<path id="rWM" d="M298.5,260.0 300.3,260.2 302.2,260.5 304.0,260.5 305.9,260.8 307.7,261.0 309.5,261.2 311.4,261.3 313.2,261.6 315.0,261.8 316.9,261.9 318.7,262.1 320.4,262.3 322.2,262.3 323.9,262.6 325.7,262.7 327.4,263.0 329.2,263.1 331.0,263.1 332.7,263.3 334.5,263.5 336.2,263.5 338.0,263.8 339.7,263.9 341.5,264.0 343.3,264.1 345.0,264.4 346.7,264.3 348.4,264.1 350.1,264.0 351.8,263.9 353.6,263.9 355.2,263.6 357.0,263.6 358.7,263.5 360.4,263.4 362.1,263.3 363.8,263.1 365.6,263.0 367.4,262.6 369.3,262.5 371.1,262.3 372.9,262.2 374.7,262.0 376.5,261.6 378.4,261.4 380.2,261.3 379.5,263.0 377.8,263.9 376.0,264.6 374.7,266.0 373.1,267.0 374.1,269.2 373.9,271.7 374.9,273.3 376.1,274.7 377.8,275.6 378.4,277.5 379.7,278.8 380.9,280.3 380.5,282.2 379.6,283.9 379.4,285.8 378.0,287.5 376.0,288.7 374.7,290.5 373.6,292.3 371.8,293.2 369.8,293.8 368.4,295.2 366.7,296.0 365.3,297.1 363.4,297.6 362.2,299.1 360.9,300.5 358.7,300.0 357.3,301.1 355.9,302.2 353.7,303.2 351.3,303.8 348.9,303.8 346.6,303.0 345.0,303.7 343.6,304.9 341.9,305.3 340.0,305.4 338.9,307.2 337.2,307.7 335.6,308.4 333.7,309.6 331.6,310.1 329.4,310.0 327.9,311.0 326.5,312.0 324.9,312.9 323.1,313.1 321.9,314.8 319.9,315.1 318.4,316.3 315.3,317.0 313.3,316.3 311.2,316.6 309.1,316.3 306.8,315.5 304.4,315.5 302.0,316.6 301.9,314.8 300.3,313.5 300.5,311.6 299.2,310.4 297.2,310.3 296.0,309.0 294.3,308.1 292.3,308.4 291.2,306.8 289.4,306.0 287.7,305.3 287.4,303.5 287.2,301.8 286.4,300.1 286.2,298.3 286.8,296.1 288.4,294.4 289.0,292.5 289.7,290.6 290.8,288.9 292.6,288.6 293.6,286.7 295.5,286.6 296.3,284.7 296.3,282.7 294.6,281.0 292.3,280.3 290.0,279.2 288.4,277.2 288.7,274.7 287.7,272.5 288.8,271.1 289.8,269.6 290.0,267.8 291.4,266.5 293.0,265.7 294.6,264.7 296.3,263.9 298.1,262.3 298.5,260.0Z"/>
<path id="rPD" d="M380.2,261.3 381.7,259.2 383.8,259.3 385.6,260.3 387.5,261.4 388.8,263.1 390.9,263.9 392.9,264.8 395.0,265.5 396.6,267.1 398.2,268.6 398.9,270.9 399.6,273.0 400.2,275.0 400.5,277.2 400.9,279.1 400.7,281.1 401.6,282.9 402.3,284.7 402.8,286.6 403.2,288.5 403.8,290.4 405.3,292.0 404.7,294.2 405.9,295.9 406.1,297.8 406.6,299.5 407.4,301.2 408.6,302.7 409.1,304.5 410.0,306.2 411.2,307.8 411.2,309.9 412.2,311.6 413.2,313.6 413.4,315.6 413.0,317.8 413.9,319.3 414.5,321.0 414.5,322.8 414.8,324.8 415.2,326.7 415.3,328.7 414.5,330.6 413.7,332.8 412.4,334.6 410.6,336.1 409.2,337.3 407.9,338.7 405.6,338.5 404.4,340.0 403.1,341.3 402.5,343.1 401.2,344.4 399.7,345.5 398.9,347.1 397.8,348.6 397.1,350.3 395.1,351.2 394.5,353.0 392.3,352.6 390.6,351.3 388.8,350.2 386.7,349.9 384.7,349.1 382.5,349.4 380.6,349.3 379.5,347.5 377.8,347.0 377.7,345.0 376.5,343.4 375.7,341.7 374.7,340.0 374.4,337.9 374.3,335.8 373.9,333.8 372.7,332.4 371.0,331.4 370.0,329.8 367.8,329.9 365.8,328.9 363.8,328.3 363.1,326.5 362.0,324.9 360.6,323.6 360.1,321.7 358.7,320.3 357.5,318.9 357.1,317.1 356.0,315.7 355.1,314.2 353.6,313.1 353.3,310.7 352.8,308.4 351.3,306.3 351.3,303.8 353.7,303.2 355.9,302.2 357.3,301.1 358.7,300.0 360.9,300.5 362.2,299.1 363.4,297.6 365.3,297.1 366.7,296.0 368.4,295.2 369.8,293.8 371.8,293.2 373.6,292.3 374.7,290.5 376.0,288.7 378.0,287.5 379.4,285.8 379.6,283.9 380.5,282.2 380.9,280.3 379.7,278.8 378.4,277.5 377.8,275.6 376.1,274.7 374.9,273.3 373.9,271.7 374.1,269.2 373.1,267.0 374.7,266.0 376.0,264.6 377.8,263.9 379.5,263.0 380.2,261.3Z"/>
<path id="rLB" d="M394.5,353.0 395.9,354.6 398.0,354.7 399.7,355.6 401.8,356.4 404.1,356.6 405.9,358.0 407.5,359.5 408.2,361.5 409.1,363.4 409.3,365.4 408.2,367.3 409.0,369.4 408.3,371.3 408.9,373.3 407.2,375.1 407.7,377.1 407.5,379.1 408.8,381.0 409.0,383.3 409.8,385.3 411.1,387.2 410.8,389.5 411.4,391.6 411.4,393.7 412.3,395.4 413.5,397.0 414.4,398.6 416.1,399.6 416.9,401.3 417.9,402.8 418.9,404.2 418.9,406.2 420.0,407.6 420.8,409.1 421.6,410.7 423.4,411.6 424.7,412.9 425.5,414.5 423.7,414.9 422.0,415.4 420.8,416.9 421.3,418.9 422.3,420.6 423.3,422.4 424.7,423.9 424.3,425.6 425.1,427.4 424.7,429.1 424.7,430.9 423.3,433.0 421.6,434.8 419.7,436.1 417.6,436.6 415.3,436.4 414.0,438.0 412.5,439.4 410.4,440.3 409.1,441.9 408.3,440.2 407.0,439.0 405.1,438.2 404.4,436.4 403.2,438.1 401.4,438.7 400.0,439.8 398.1,440.3 396.3,441.3 394.2,440.9 392.1,440.8 390.3,441.9 388.4,440.7 386.3,440.3 384.1,440.3 382.0,439.6 381.3,437.3 379.4,436.4 381.1,434.6 382.5,432.5 381.3,430.8 378.9,430.5 377.8,428.6 376.1,428.1 374.8,426.9 373.3,425.9 371.6,425.5 370.7,423.4 369.0,421.8 367.7,420.0 366.1,421.2 363.9,420.8 362.2,421.6 361.8,419.2 362.2,416.9 362.0,414.8 361.4,412.9 359.9,411.2 359.8,409.1 359.7,407.0 360.2,405.0 361.2,403.0 360.6,400.9 360.1,398.5 359.1,396.3 359.0,394.2 358.8,392.0 359.8,390.0 359.0,388.2 357.5,386.9 356.7,385.1 355.2,383.8 357.0,382.8 358.5,381.1 360.6,380.6 360.4,378.5 359.9,376.5 360.6,374.4 360.9,372.6 361.4,370.8 361.4,368.9 363.5,368.9 365.0,367.2 366.9,366.6 369.0,366.8 371.1,366.2 373.1,365.8 375.2,365.4 377.3,365.2 379.4,365.0 381.4,363.9 382.5,361.9 384.7,362.9 387.2,362.7 388.5,360.6 390.3,358.8 391.2,357.2 392.7,356.1 393.9,354.8 394.5,353.0Z"/>
<path id="rPK" d="M409.1,441.9 407.8,444.7 406.2,445.9 405.8,447.9 404.1,449.0 403.0,450.5 402.0,452.1 401.6,454.1 400.8,455.8 400.0,457.5 399.0,459.0 398.1,460.6 397.1,462.2 395.6,463.4 394.2,464.7 393.8,466.6 392.4,467.8 392.0,469.5 390.9,470.8 389.8,472.1 389.9,474.2 388.2,475.1 387.5,476.7 387.4,478.7 388.1,480.5 389.1,482.2 389.1,484.2 389.9,486.1 390.7,488.0 390.6,490.0 391.5,491.9 393.4,493.0 394.5,494.7 394.0,497.0 394.5,499.4 392.8,497.9 390.6,497.8 388.6,497.4 386.7,496.8 385.0,495.4 382.8,495.5 380.9,494.4 378.5,494.4 376.6,493.1 374.8,492.9 373.2,492.1 372.2,490.2 370.3,490.0 369.1,488.1 366.8,487.3 365.6,485.3 364.3,484.1 362.8,483.1 361.1,482.7 359.4,482.2 357.4,482.2 355.5,481.7 353.5,482.2 351.6,481.4 350.6,479.7 351.0,477.7 350.9,475.7 350.0,474.0 348.7,472.2 348.9,469.9 348.2,468.0 347.5,466.0 347.7,464.1 346.6,462.6 345.5,461.0 345.0,459.3 345.0,457.5 344.9,455.6 344.8,453.7 343.2,452.0 343.6,450.0 344.4,448.0 343.2,445.9 344.3,443.9 344.2,441.9 346.6,440.3 348.4,439.2 350.2,438.1 351.6,436.6 352.8,434.8 354.2,433.8 355.5,432.5 356.7,431.2 357.7,429.7 359.1,428.6 360.6,427.2 360.3,424.9 360.8,423.1 362.2,421.6 363.9,420.8 366.1,421.2 367.7,420.0 369.0,421.8 370.7,423.4 371.6,425.5 373.3,425.9 374.8,426.9 376.1,428.1 377.8,428.6 378.9,430.5 381.3,430.8 382.5,432.5 381.1,434.6 379.4,436.4 381.3,437.3 382.0,439.6 384.1,440.3 386.3,440.3 388.4,440.7 390.3,441.9 392.1,440.8 394.2,440.9 396.3,441.3 398.1,440.3 400.0,439.8 401.4,438.7 403.2,438.1 404.4,436.4 405.1,438.2 407.0,439.0 408.3,440.2 409.1,441.9Z"/>
<path id="rMP" d="M351.6,481.4 349.4,482.6 346.9,482.2 345.0,482.3 343.7,483.5 342.2,484.5 340.2,486.1 338.3,487.7 336.6,486.3 334.4,486.1 332.8,485.4 331.5,484.0 329.7,483.8 327.7,483.5 325.8,484.6 323.9,484.7 321.9,484.5 320.5,485.6 318.9,486.5 317.1,486.8 315.6,487.7 315.2,489.4 314.2,490.9 313.8,492.6 312.5,493.9 310.6,493.0 308.6,493.7 306.6,493.4 304.7,493.1 304.8,491.0 305.3,489.0 304.7,486.9 303.0,485.4 302.0,483.3 300.0,482.2 299.0,480.6 298.1,479.0 297.1,477.5 296.1,475.9 294.8,474.5 294.7,472.4 293.4,471.0 291.6,470.0 290.8,468.1 289.6,466.6 288.2,465.2 287.6,463.1 286.5,461.2 285.4,459.3 285.8,457.3 286.8,455.7 288.5,454.4 289.5,452.8 290.6,451.0 291.7,449.2 291.7,447.0 292.1,445.0 293.6,443.6 294.2,441.8 295.8,440.5 297.4,439.0 299.9,439.0 301.3,437.2 303.5,436.7 305.5,435.9 307.5,434.8 310.6,435.6 312.5,435.8 314.2,437.0 316.1,437.2 317.0,438.7 318.3,440.0 318.1,442.0 319.2,443.4 320.0,445.4 321.8,446.8 322.3,448.9 324.1,448.5 325.9,449.3 327.6,448.2 329.4,448.9 331.3,448.7 332.9,448.0 334.4,447.2 335.4,445.4 337.2,445.0 338.7,443.8 340.8,443.6 342.8,443.4 344.2,441.9 344.3,443.9 343.2,445.9 344.4,448.0 343.6,450.0 343.2,452.0 344.8,453.7 344.9,455.6 345.0,457.5 345.0,459.3 345.5,461.0 346.6,462.6 347.7,464.1 347.5,466.0 348.2,468.0 348.9,469.9 348.7,472.2 350.0,474.0 350.9,475.7 351.0,477.7 350.6,479.7 351.6,481.4Z"/>
<path id="rSL" d="M296.1,475.9 294.6,477.4 292.5,477.6 290.6,478.3 290.0,480.4 289.2,482.4 287.5,483.8 285.6,483.6 283.9,484.8 282.0,484.5 280.9,483.0 280.2,481.2 278.9,479.8 278.2,478.2 277.1,476.8 276.6,475.1 275.8,473.6 274.3,472.2 273.0,470.6 271.1,469.7 269.7,468.0 269.6,465.8 268.4,464.0 268.0,461.9 266.1,461.6 264.6,460.3 262.7,460.1 260.9,459.5 259.2,458.5 257.7,457.3 256.1,456.2 254.1,455.9 254.2,453.9 254.8,452.0 256.5,450.1 258.8,448.9 260.9,447.9 262.4,446.3 264.2,445.0 263.6,443.0 264.8,441.1 265.1,439.2 265.0,437.2 266.1,435.7 266.9,434.1 268.9,433.4 269.7,431.7 269.7,429.9 269.3,428.1 269.0,426.3 268.1,424.7 268.3,422.6 269.5,420.9 269.8,418.8 270.5,416.9 271.6,414.9 271.5,412.5 272.8,410.6 274.9,410.1 277.0,410.2 279.1,409.8 280.5,411.0 282.2,411.5 283.9,411.9 285.3,413.0 287.7,412.2 290.0,411.4 290.7,413.2 291.8,414.6 293.2,415.8 294.7,416.9 296.6,417.0 298.1,417.9 299.4,419.2 301.6,418.8 303.6,420.0 302.9,421.9 302.8,423.9 304.2,425.3 305.6,426.7 306.5,428.5 305.2,430.2 306.4,431.5 307.1,433.1 307.5,434.8 305.5,435.9 303.5,436.7 301.3,437.2 299.9,439.0 297.4,439.0 295.8,440.5 294.2,441.8 293.6,443.6 292.1,445.0 291.7,447.0 291.7,449.2 290.6,451.0 289.5,452.8 288.5,454.4 286.8,455.7 285.8,457.3 285.4,459.3 286.5,461.2 287.6,463.1 288.2,465.2 289.6,466.6 290.8,468.1 291.6,470.0 293.4,471.0 294.7,472.4 294.8,474.5 296.1,475.9Z"/>
<path id="rOP" d="M254.1,455.9 252.2,457.2 250.2,458.3 249.0,456.9 247.6,455.7 246.3,454.4 245.0,453.1 243.8,451.6 242.3,450.5 244.3,449.2 246.3,448.1 245.5,446.1 244.7,444.2 242.4,445.0 240.0,445.8 238.1,444.6 235.9,444.4 233.8,444.2 232.5,442.9 231.0,442.0 228.9,442.2 227.5,441.1 226.3,439.7 225.4,438.0 223.6,437.2 225.4,435.4 227.5,434.1 228.1,432.4 228.9,430.9 229.7,429.3 230.6,427.8 230.9,426.0 232.8,425.0 233.2,423.3 233.8,421.6 235.3,420.1 236.4,418.4 237.1,416.5 237.7,414.5 238.2,412.8 239.0,411.2 239.5,409.5 240.7,408.2 241.6,406.7 243.5,405.7 245.6,405.2 247.8,405.2 249.4,406.0 251.3,406.0 252.5,407.5 254.5,407.4 256.3,406.8 258.0,405.9 259.6,407.0 261.7,406.7 263.4,407.5 265.7,406.6 268.1,406.7 269.9,407.7 271.4,409.1 272.8,410.6 271.5,412.5 271.6,414.9 270.5,416.9 269.8,418.8 269.5,420.9 268.3,422.6 268.1,424.7 269.0,426.3 269.3,428.1 269.7,429.9 269.7,431.7 268.9,433.4 266.9,434.1 266.1,435.7 265.0,437.2 265.1,439.2 264.8,441.1 263.6,443.0 264.2,445.0 262.4,446.3 260.9,447.9 258.8,448.9 256.5,450.1 254.8,452.0 254.2,453.9 254.1,455.9Z"/>
<path id="rDS" d="M223.6,437.2 222.0,438.8 222.7,441.0 224.4,442.7 225.4,444.5 225.2,446.6 223.6,447.9 221.6,448.2 219.7,448.9 218.5,450.5 216.8,451.3 215.0,452.0 213.4,450.5 213.2,448.3 211.9,446.6 210.7,444.7 209.2,443.0 207.2,441.9 205.2,440.7 204.3,438.5 202.5,437.2 204.2,436.6 205.6,435.6 206.2,433.7 208.2,432.8 208.8,430.9 207.7,429.0 205.4,428.6 204.1,427.0 201.8,426.8 199.9,428.2 197.8,428.6 196.2,427.3 195.2,425.4 193.1,424.7 191.8,423.4 189.8,423.6 188.4,422.5 186.9,421.6 184.8,421.0 182.6,420.8 180.6,420.0 179.1,418.7 178.3,416.9 177.2,414.9 177.0,412.6 175.9,410.6 173.8,411.4 171.8,410.5 169.7,410.6 169.5,412.4 169.9,414.4 168.9,416.1 166.5,416.0 164.2,415.3 165.9,413.9 167.3,412.2 168.1,410.7 168.9,409.1 168.6,407.0 170.5,405.4 170.6,403.3 170.5,401.3 170.8,398.7 169.7,396.3 170.5,393.1 172.6,392.2 174.4,390.8 176.7,391.4 179.1,391.6 180.2,389.6 182.2,388.4 183.9,388.9 185.4,389.8 186.9,390.8 188.2,389.2 190.0,388.2 191.6,386.9 192.7,385.2 194.3,384.0 195.4,382.4 196.3,380.6 198.4,379.1 199.4,376.7 201.5,378.2 204.1,378.3 205.6,379.2 207.2,379.8 208.6,378.6 208.8,376.7 211.9,377.5 213.1,379.0 215.0,379.1 216.6,380.8 217.3,383.0 219.2,384.1 221.3,384.5 222.7,386.3 224.4,387.7 226.8,387.0 229.1,387.7 231.0,387.1 232.6,386.1 233.8,384.5 236.0,385.5 238.4,386.1 239.7,388.3 241.6,390.0 241.5,392.0 242.3,393.9 244.4,393.7 246.3,394.7 247.0,397.1 247.8,399.4 247.8,401.3 247.3,403.3 247.8,405.2 245.6,405.2 243.5,405.7 241.6,406.7 240.7,408.2 239.5,409.5 239.0,411.2 238.2,412.8 237.7,414.5 237.1,416.5 236.4,418.4 235.3,420.1 233.8,421.6 233.2,423.3 232.8,425.0 230.9,426.0 230.6,427.8 229.7,429.3 228.9,430.9 228.1,432.4 227.5,434.1 225.4,435.4 223.6,437.2Z"/>
<path id="rLS" d="M170.5,393.1 168.8,391.5 168.1,389.2 166.5,388.2 165.0,387.1 164.2,385.3 164.1,383.1 162.8,381.3 162.7,379.1 161.6,377.1 161.5,374.9 161.1,372.8 162.5,371.0 163.1,368.8 163.4,366.6 163.3,364.5 163.4,362.3 164.2,360.3 164.6,358.1 163.8,356.2 163.4,354.1 162.9,352.1 161.3,350.7 161.1,348.6 160.7,346.7 161.9,345.0 161.9,343.1 162.3,341.3 162.2,339.3 163.4,337.7 164.6,336.4 166.0,335.2 167.2,333.8 168.1,332.2 169.6,330.4 170.5,328.3 172.3,328.0 174.1,327.7 175.9,328.3 177.2,327.0 179.3,327.3 180.9,326.5 182.2,325.2 184.3,325.0 186.0,323.6 188.3,324.1 190.0,322.8 192.3,322.6 194.4,321.9 196.3,320.5 198.0,319.3 199.5,317.5 200.8,319.0 200.5,321.0 200.9,322.7 200.2,324.4 200.0,326.5 200.0,328.6 199.4,330.6 197.7,331.8 196.7,333.3 196.3,335.3 196.0,337.4 196.2,339.6 195.5,341.6 195.3,343.8 196.8,345.7 197.0,347.8 197.0,349.9 197.3,352.1 196.3,354.1 196.5,356.2 196.3,358.2 196.3,360.3 197.0,362.7 197.8,365.0 199.4,366.0 200.4,367.6 201.7,368.9 203.6,370.4 204.1,372.8 207.2,373.6 208.3,375.0 208.8,376.7 208.6,378.6 207.2,379.8 205.6,379.2 204.1,378.3 201.5,378.2 199.4,376.7 198.4,379.1 196.3,380.6 195.4,382.4 194.3,384.0 192.7,385.2 191.6,386.9 190.0,388.2 188.2,389.2 186.9,390.8 185.4,389.8 183.9,388.9 182.2,388.4 180.2,389.6 179.1,391.6 176.7,391.4 174.4,390.8 172.6,392.2 170.5,393.1Z"/>
<path id="rWP" d="M225.2,295.2 224.0,296.6 222.6,297.8 221.3,299.1 219.3,299.6 217.8,301.2 216.0,302.0 214.2,303.0 215.1,305.1 216.6,306.9 217.6,309.0 219.7,310.0 218.3,311.7 216.2,312.8 215.0,314.7 212.9,315.2 211.1,316.3 209.8,318.1 208.8,320.2 206.7,320.8 204.7,321.4 202.5,321.7 200.8,319.0 199.5,317.5 200.8,319.0 200.5,321.0 200.9,322.7 200.2,324.4 200.0,326.5 200.0,328.6 199.4,330.6 197.7,331.8 196.7,333.3 196.3,335.3 196.0,337.4 196.2,339.6 195.5,341.6 195.3,343.8 196.8,345.7 197.0,347.8 197.0,349.9 197.3,352.1 196.3,354.1 196.5,356.2 196.3,358.2 196.3,360.3 197.0,362.7 197.8,365.0 199.4,366.0 200.4,367.6 201.7,368.9 203.6,370.4 204.1,372.8 207.2,373.6 208.3,375.0 208.8,376.7 211.9,377.5 213.1,379.0 215.0,379.1 216.6,380.8 217.3,383.0 219.2,384.1 221.3,384.5 222.7,386.3 224.4,387.7 226.8,387.0 229.1,387.7 231.0,387.1 232.6,386.1 233.8,384.5 236.0,385.5 238.4,386.1 239.7,388.3 241.6,390.0 241.5,392.0 242.3,393.9 244.4,393.7 246.3,394.7 247.0,397.1 247.8,399.4 247.8,401.3 247.3,403.3 247.8,405.2 249.4,406.0 251.3,406.0 252.5,407.5 254.5,407.4 256.3,406.8 258.0,405.9 257.2,404.2 256.4,402.5 256.4,399.7 258.0,397.0 259.6,395.1 261.1,393.1 263.2,391.7 265.0,390.0 263.9,387.8 264.2,385.3 264.8,383.3 264.3,381.1 265.0,379.1 266.3,377.7 268.0,377.2 269.7,376.7 271.4,376.3 272.6,374.7 274.4,374.4 274.5,372.5 274.6,370.6 273.6,368.9 275.5,367.7 277.5,366.6 278.1,364.2 279.1,361.9 281.0,360.7 283.0,359.5 283.6,357.8 284.1,356.0 284.0,354.1 282.3,353.5 280.6,353.3 278.6,352.5 276.3,352.9 274.4,351.7 272.5,351.0 271.0,349.7 269.9,347.9 268.1,347.0 266.0,347.1 264.0,346.4 261.9,346.3 259.5,346.2 257.4,345.4 255.6,343.9 253.9,343.5 252.6,342.1 251.1,341.3 249.4,340.8 248.0,339.7 246.1,339.5 244.7,338.4 242.9,337.1 241.0,335.8 239.2,334.5 239.7,332.7 239.8,330.8 241.6,329.5 241.6,327.5 240.0,326.2 239.9,323.9 238.6,322.4 236.9,321.3 236.5,319.4 237.7,317.8 237.9,315.7 238.7,313.7 238.4,311.6 238.3,309.7 236.8,308.5 236.1,306.9 236.5,304.4 237.7,302.2 235.7,301.9 233.8,301.4 231.9,300.2 229.4,300.5 227.5,299.1 226.7,296.9 225.2,295.2Z"/>
<path id="rKP" d="M237.7,302.2 238.4,300.0 240.0,298.3 242.1,298.1 244.3,298.5 246.3,297.5 246.5,295.7 247.8,294.4 249.6,293.8 250.9,292.3 252.5,291.3 255.0,291.5 257.2,290.5 259.5,291.6 261.9,292.0 264.1,292.1 265.9,293.7 268.1,293.6 270.2,293.8 272.4,293.4 274.4,294.4 275.9,295.6 275.9,297.5 278.3,297.9 280.6,298.3 282.5,298.2 284.3,298.0 286.2,298.3 286.4,300.1 287.2,301.8 287.4,303.5 287.7,305.3 289.4,306.0 291.2,306.8 292.3,308.4 294.3,308.1 296.0,309.0 297.2,310.3 299.2,310.4 300.5,311.6 300.3,313.5 301.9,314.8 302.0,316.6 300.8,318.5 298.9,319.7 299.0,321.6 298.8,323.4 298.1,325.2 296.6,326.1 295.0,326.8 293.4,327.5 292.9,329.7 293.4,331.8 294.2,333.8 292.9,335.7 293.4,338.2 291.9,340.0 291.8,342.4 290.0,344.1 289.5,346.3 288.6,348.3 289.1,350.4 288.8,352.5 286.4,353.2 284.0,354.1 282.3,353.5 280.6,353.3 278.6,352.5 276.3,352.9 274.4,351.7 272.5,351.0 271.0,349.7 269.9,347.9 268.1,347.0 266.0,347.1 264.0,346.4 261.9,346.3 259.5,346.2 257.4,345.4 255.6,343.9 253.9,343.5 252.6,342.1 251.1,341.3 249.4,340.8 248.0,339.7 246.1,339.5 244.7,338.4 242.9,337.1 241.0,335.8 239.2,334.5 239.7,332.7 239.8,330.8 241.6,329.5 241.6,327.5 240.0,326.2 239.9,323.9 238.6,322.4 236.9,321.3 236.5,319.4 237.7,317.8 237.9,315.7 238.7,313.7 238.4,311.6 238.3,309.7 236.8,308.5 236.1,306.9 236.5,304.4 237.7,302.2Z"/>
<path id="rMZ" d="M302.0,316.6 304.4,315.5 306.8,315.5 309.1,316.3 311.2,316.6 313.3,316.3 315.3,317.0 318.4,316.3 319.9,315.1 321.9,314.8 323.1,313.1 324.9,312.9 326.5,312.0 327.9,311.0 329.4,310.0 331.6,310.1 333.7,309.6 335.6,308.4 337.2,307.7 338.9,307.2 340.0,305.4 341.9,305.3 343.6,304.9 345.0,303.7 346.6,303.0 348.9,303.8 351.3,303.8 351.3,306.3 352.8,308.4 353.3,310.7 353.6,313.1 355.1,314.2 356.0,315.7 357.1,317.1 357.5,318.9 358.7,320.3 360.1,321.7 360.6,323.6 362.0,324.9 363.1,326.5 363.8,328.3 365.8,328.9 367.8,329.9 370.0,329.8 371.0,331.4 372.7,332.4 373.9,333.8 374.3,335.8 374.4,337.9 374.7,340.0 375.7,341.7 376.5,343.4 377.7,345.0 377.8,347.0 379.5,347.5 380.6,349.3 382.5,349.4 384.7,349.1 386.7,349.9 388.8,350.2 390.6,351.3 392.3,352.6 394.5,353.0 393.9,354.8 392.7,356.1 391.2,357.2 390.3,358.8 388.5,360.6 387.2,362.7 384.7,362.9 382.5,361.9 381.4,363.9 379.4,365.0 377.3,365.2 375.2,365.4 373.1,365.8 371.1,366.2 369.0,366.8 366.9,366.6 365.0,367.2 363.5,368.9 361.4,368.9 361.4,370.8 360.9,372.6 360.6,374.4 359.9,376.5 360.4,378.5 360.6,380.6 358.5,381.1 357.0,382.8 355.2,383.8 356.7,385.1 357.5,386.9 359.0,388.2 359.8,390.0 358.8,392.0 359.0,394.2 359.1,396.3 360.1,398.5 360.6,400.9 361.2,403.0 360.2,405.0 359.7,407.0 359.8,409.1 358.0,409.1 356.5,410.4 354.6,409.5 353.0,410.3 351.3,410.6 349.2,410.4 347.2,409.9 345.5,408.4 343.4,408.3 341.7,407.2 340.4,405.6 338.8,404.4 336.6,404.6 334.4,404.7 332.5,405.9 331.1,404.7 329.1,404.9 327.7,403.8 326.4,402.4 324.7,402.0 323.2,400.1 321.6,398.3 323.0,396.7 323.9,394.7 322.9,392.4 322.3,390.0 321.4,388.0 322.3,385.8 321.6,383.8 323.3,382.8 325.4,383.4 327.0,382.2 326.2,379.9 325.5,377.5 324.4,375.5 323.1,373.6 321.3,373.0 319.9,371.8 318.3,371.0 316.9,369.7 315.7,368.1 315.6,366.1 315.3,364.2 313.7,362.9 312.5,361.2 310.6,360.3 309.8,358.3 308.3,356.9 306.7,355.6 305.1,356.9 303.3,357.2 301.3,357.2 299.0,356.9 296.9,356.2 295.0,354.8 293.0,353.9 291.1,352.5 288.8,352.5 289.1,350.4 288.6,348.3 289.5,346.3 290.0,344.1 291.8,342.4 291.9,340.0 293.4,338.2 292.9,335.7 294.2,333.8 293.4,331.8 292.9,329.7 293.4,327.5 295.0,326.8 296.6,326.1 298.1,325.2 298.8,323.4 299.0,321.6 298.9,319.7 300.8,318.5 302.0,316.6Z"/>
<path id="rLD" d="M288.8,352.5 291.1,352.5 293.0,353.9 295.0,354.8 296.9,356.2 299.0,356.9 301.3,357.2 303.3,357.2 305.1,356.9 306.7,355.6 308.3,356.9 309.8,358.3 310.6,360.3 312.5,361.2 313.7,362.9 315.3,364.2 315.6,366.1 315.7,368.1 316.9,369.7 318.3,371.0 319.9,371.8 321.3,373.0 323.1,373.6 324.4,375.5 325.5,377.5 326.2,379.9 327.0,382.2 325.4,383.4 323.3,382.8 321.6,383.8 322.3,385.8 321.4,388.0 322.3,390.0 322.9,392.4 323.9,394.7 323.0,396.7 321.6,398.3 319.9,399.3 318.5,400.8 316.9,402.0 314.8,402.1 313.1,403.0 311.4,404.0 309.8,405.2 310.0,407.1 308.9,408.7 309.1,410.6 307.7,411.9 307.9,413.9 306.7,415.3 305.5,416.7 304.4,418.3 303.6,420.0 301.6,418.8 299.4,419.2 298.1,417.9 296.6,417.0 294.7,416.9 293.2,415.8 291.8,414.6 290.7,413.2 290.0,411.4 287.7,412.2 285.3,413.0 283.9,411.9 282.2,411.5 280.5,411.0 279.1,409.8 277.0,410.2 274.9,410.1 272.8,410.6 271.4,409.1 269.9,407.7 268.1,406.7 265.7,406.6 263.4,407.5 261.7,406.7 259.6,407.0 258.0,405.9 257.2,404.2 256.4,402.5 256.4,399.7 258.0,397.0 259.6,395.1 261.1,393.1 263.2,391.7 265.0,390.0 263.9,387.8 264.2,385.3 264.8,383.3 264.3,381.1 265.0,379.1 266.3,377.7 268.0,377.2 269.7,376.7 271.4,376.3 272.6,374.7 274.4,374.4 274.5,372.5 274.6,370.6 273.6,368.9 275.5,367.7 277.5,366.6 278.1,364.2 279.1,361.9 281.0,360.7 283.0,359.5 283.6,357.8 284.1,356.0 284.0,354.1 286.4,353.2 288.8,352.5Z"/>
<path id="rSK" d="M321.6,398.3 323.2,400.1 324.7,402.0 326.4,402.4 327.7,403.8 329.1,404.9 331.1,404.7 332.5,405.9 334.4,404.7 336.6,404.6 338.8,404.4 340.4,405.6 341.7,407.2 343.4,408.3 345.5,408.4 347.2,409.9 349.2,410.4 351.3,410.6 353.0,410.3 354.6,409.5 356.5,410.4 358.0,409.1 359.8,409.1 359.9,411.2 361.4,412.9 362.0,414.8 362.2,416.9 361.8,419.2 362.2,421.6 360.8,423.1 360.3,424.9 360.6,427.2 359.1,428.6 357.7,429.7 356.7,431.2 355.5,432.5 354.2,433.8 352.8,434.8 351.6,436.6 350.2,438.1 348.4,439.2 346.6,440.3 344.2,441.9 342.8,443.4 340.8,443.6 338.7,443.8 337.2,445.0 335.4,445.4 334.4,447.2 332.9,448.0 331.3,448.7 329.4,448.9 327.6,448.2 325.9,449.3 324.1,448.5 322.3,448.9 321.8,446.8 320.0,445.4 319.2,443.4 318.1,442.0 318.3,440.0 317.0,438.7 316.1,437.2 314.2,437.0 312.5,435.8 310.6,435.6 307.5,434.8 307.1,433.1 306.4,431.5 305.2,430.2 306.5,428.5 305.6,426.7 304.2,425.3 302.8,423.9 302.9,421.9 303.6,420.0 304.4,418.3 305.5,416.7 306.7,415.3 307.9,413.9 307.7,411.9 309.1,410.6 308.9,408.7 310.0,407.1 309.8,405.2 311.4,404.0 313.1,403.0 314.8,402.1 316.9,402.0 318.5,400.8 319.9,399.3 321.6,398.3Z"/>
</defs>
<use href="#rZP" fill="#a9cbec"/>
<use href="#rPM" fill="#a9cbec"/>
<use href="#rWM" fill="#6aaee1"/>
<use href="#rPD" fill="#6aaee1"/>
<use href="#rLB" fill="#6aaee1"/>
<use href="#rPK" fill="#6aaee1"/>
<use href="#rMP" fill="#a9cbec"/>
<use href="#rSL" fill="#d5e5f6"/>
<use href="#rOP" fill="#6aaee1"/>
<use href="#rDS" fill="#a9cbec"/>
<use href="#rLS" fill="#0a7ac2"/>
<use href="#rWP" fill="#6aaee1"/>
<use href="#rKP" fill="#d5e5f6"/>
<use href="#rMZ" fill="#d5e5f6"/>
<use href="#rLD" fill="#a9cbec"/>
<use href="#rSK" fill="#a9cbec"/>
<g fill="url(#dots)" stroke="none"><use href="#rZP"/><use href="#rPM"/><use href="#rWM"/><use href="#rPD"/><use href="#rLB"/><use href="#rPK"/><use href="#rMP"/><use href="#rSL"/><use href="#rOP"/><use href="#rDS"/><use href="#rLS"/><use href="#rWP"/><use href="#rKP"/><use href="#rMZ"/><use href="#rLD"/><use href="#rSK"/></g>
</g>
<path d="M264.6,243 C269,244.2 274.6,247.2 277.3,253.6" fill="none" stroke="#2e3338" stroke-width="1.5" stroke-linecap="round"/>
</svg>

<div class="lg" style="top:368.5px;background:#0a7ac2"></div>
<div class="lg" style="top:391.5px;background:#6aaee1"></div>
<div class="lg" style="top:414.5px;background:#a9cbec"></div>
<div class="lg" style="top:437.5px;background:#d5e5f6"></div>


<svg class="abs" style="left:0;top:538px" width="1024" height="38" viewBox="0 538 1024 38">
<rect x="0" y="539.600" width="1024" height="37" fill="#0a7ec6"/><rect x="0" y="575.200" width="1024" height="1" fill="#3f9bd7"/>
<!-- facebook -->
<circle cx="102.8" cy="557.2" r="12.3" fill="#fff"/>
<path d="M105.3,569.4v-8.5h2.9l.5,-3.5h-3.4v-2.2c0,-1 .5,-1.9 2,-1.9h1.5v-3c-.7,-.1 -1.7,-.2 -2.7,-.2c-2.8,0 -4.5,1.700 -4.500,4.600v2.700h-3v3.500h3v8.500z" fill="#0a7ec6"/>
<!-- globe -->
<g fill="none" stroke="#fff" stroke-width="1.1">
<circle cx="437.3" cy="557.5" r="11.6"/>
<ellipse cx="437.3" cy="557.5" rx="5.2" ry="11.6"/>
<path d="M437.3,545.9V569.100M425.700,557.500H448.900M427.500,551.400H447.100M427.500,563.600H447.100"/>
</g>
<!-- X -->
<g fill="none" stroke="#fff" stroke-width="1.25" stroke-linejoin="miter">
<path d="M780.200,546.200H785.800L801.600,569.300H796Z"/>
<path d="M800.300,546.200L791.800,555.900M789.300,558.800L780.300,569.300"/>
</g>
</svg>
<div class="abs" style="left:47.10px;top:21.64px;font-size:12.3px;line-height:15px;color:#e6f0f7;transform-origin:0 0;transform:scaleX(0.9483);">Urząd Statystyczny</div>
<div class="abs" style="left:48.80px;top:36.30px;font-size:9.8px;line-height:12px;color:#e6f0f7;transform-origin:0 0;transform:scaleX(0.9368);">w Zielonej Górze</div>
<div class="abs" style="left:212.15px;top:18.19px;font-size:39px;line-height:47px;color:#fff;transform-origin:0 0;transform:scaleX(0.8043);font-weight:bold;-webkit-text-stroke:.8px #fff;text-shadow:.9px 0 0 #fff,-.9px 0 0 #fff;"><span style="font-size:33px">D</span>zień <span style="font-size:33px">B</span>ezpiecznego</div>
<div class="abs" style="left:212.24px;top:60.88px;font-size:50px;line-height:60px;color:#fff;transform-origin:0 0;transform:scaleX(0.8576);font-weight:bold;-webkit-text-stroke:1px #fff;text-shadow:1.3px 0 0 #fff,-1.3px 0 0 #fff;"><span style="font-size:43.5px">I</span>nternetu</div>
<div class="abs" style="left:10.97px;top:127.96px;font-size:13.4px;line-height:16px;color:#f2f7fb;transform-origin:0 0;transform:scaleX(1.1122);font-style:italic;-webkit-text-stroke:.2px #f2f7fb;">województwo lubuskie w 2025 r.</div>
<div class="abs" style="left:911.91px;top:31.41px;font-size:52.5px;line-height:63px;color:#0d72b6;transform-origin:0 0;transform:scaleX(1.1181);font-weight:bold;-webkit-text-stroke:.5px #0d72b6;">0</div>
<div class="abs" style="left:885.59px;top:81.34px;font-size:18.5px;line-height:22px;color:#0d72b6;transform-origin:0 0;transform:scaleX(1.0280);font-weight:bold;">lutego</div>
<div class="abs" style="left:139.85px;top:165.87px;font-size:22.6px;line-height:27px;color:#0f78bf;transform-origin:0 0;transform:scaleX(1.0204);font-weight:bold;-webkit-text-stroke:.25px #0f78bf;">Osoby posiadające doświadczenie w korzystaniu z Internetu,</div>
<div class="abs" style="left:140.14px;top:194.57px;font-size:22.6px;line-height:27px;color:#0f78bf;transform-origin:0 0;transform:scaleX(1.0135);font-weight:bold;-webkit-text-stroke:.25px #0f78bf;">ale nie posiadające żadnych umiejętności związanych z bezpieczeństwem</div>
<div class="abs" style="left:475.06px;top:282.71px;font-size:17px;line-height:20px;color:#3a3a3a;transform-origin:0 0;transform:scaleX(0.9648);-webkit-text-stroke:.25px #3a3a3a;">Polska = 25,6%</div>
<div class="abs" style="left:584.75px;top:346.60px;font-size:13px;line-height:16px;color:#333;transform-origin:0 0;transform:scaleX(0.9653);-webkit-text-stroke:.2px #333;">W %</div>
<div class="abs" style="left:626.81px;top:371.34px;font-size:12.3px;line-height:15px;color:#333;transform-origin:0 0;transform:scaleX(1.0825);-webkit-text-stroke:.2px #333;">40,1 - 43,2</div>
<div class="abs" style="left:626.59px;top:394.34px;font-size:12.3px;line-height:15px;color:#333;transform-origin:0 0;transform:scaleX(1.0834);-webkit-text-stroke:.2px #333;">30,1 - 40,0</div>
<div class="abs" style="left:626.43px;top:417.34px;font-size:12.3px;line-height:15px;color:#333;transform-origin:0 0;transform:scaleX(1.0862);-webkit-text-stroke:.2px #333;">20,1 - 30,0</div>
<div class="abs" style="left:628.72px;top:440.34px;font-size:12.3px;line-height:15px;color:#333;transform-origin:0 0;transform:scaleX(1.0470);-webkit-text-stroke:.2px #333;">17,5 - 20,0</div>
<div class="abs" style="left:19.64px;top:517.30px;font-size:13px;line-height:16px;color:#333;transform-origin:0 0;transform:scaleX(1.0849);-webkit-text-stroke:.2px #333;">Na podstawie badania ankietowego "Wykorzystanie technologii informacyjno-komunikacyjnych w gospodarstwach domowych", wśród osób w wieku 16-74 lata.</div>
<div class="abs" style="left:123.26px;top:548.48px;font-size:14.5px;line-height:17px;color:#fff;transform-origin:0 0;transform:scaleX(1.0049);-webkit-text-stroke:.15px #fff;">@UStatZielonaGora</div>
<div class="abs" style="left:455.79px;top:548.48px;font-size:14.5px;line-height:17px;color:#fff;transform-origin:0 0;transform:scaleX(1.0444);-webkit-text-stroke:.15px #fff;">zielonagora.stat.gov.pl</div>
<div class="abs" style="left:810.80px;top:548.48px;font-size:14.5px;line-height:17px;color:#fff;transform-origin:0 0;transform:scaleX(0.9761);-webkit-text-stroke:.15px #fff;">@ZielonaGoraSTAT</div>
</body>
</html>
